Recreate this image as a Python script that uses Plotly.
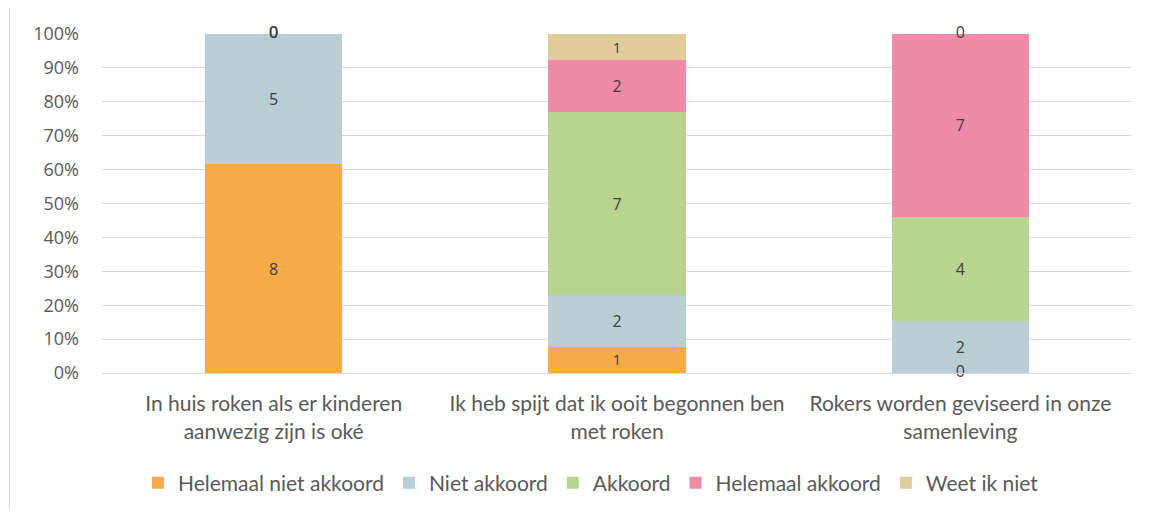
import plotly.graph_objects as go

categories = [
    "In huis roken als er kinderen<br>aanwezig zijn is oké",
    "Ik heb spijt dat ik ooit begonnen ben<br>met roken",
    "Rokers worden geviseerd in onze<br>samenleving",
]
series_names = ["Helemaal niet akkoord", "Niet akkoord", "Akkoord", "Helemaal akkoord", "Weet ik niet"]
helemaal_niet_akkoord = [8, 1, 0]
niet_akkoord = [5, 2, 2]
akkoord = [0, 7, 4]
helemaal_akkoord = [0, 2, 7]
weet_ik_niet = [0, 1, 0]
colors = ["#F6AB4B", "#B8CDD4", "#B9D491", "#EF8BA7", "#E2CB9A"]
y_ticks = [i / 10 for i in range(11)]

series = [helemaal_niet_akkoord, niet_akkoord, akkoord, helemaal_akkoord, weet_ik_niet]
totals = [sum(s[i] for s in series) for i in range(len(categories))]

# page body has an 8px margin; figure coords = screen coords - 8
OFF = 8
W, H = 1155 - 2 * OFF, 517 - 2 * OFF
L = 102 - OFF
T = 34 - OFF
R = W - (1132 - OFF)
B = H - (373 - OFF)
pw, ph = W - L - R, H - T - B

label_font = dict(family="Open Sans", size=16, color="#404040")

fig = go.Figure()
cum = [0.0] * len(categories)
zx, zy = [], []
for name, vals, col in zip(series_names, series, colors):
    frac = [v / t for v, t in zip(vals, totals)]
    fig.add_trace(go.Bar(
        name=name, x=categories, y=frac, marker_color=col, marker_line_width=0,
        text=[str(v) if v else "" for v in vals], textposition="inside",
        insidetextanchor="middle", textangle=0, textfont=label_font,
        hoverinfo="skip",
    ))
    for i, v in enumerate(vals):
        if v == 0:
            zx.append(categories[i])
            zy.append(cum[i])
    cum = [c + f for c, f in zip(cum, frac)]

fig.add_trace(go.Scatter(
    x=zx, y=zy, mode="text", text=["0"] * len(zx), textposition="middle center",
    textfont=label_font, showlegend=False, hoverinfo="skip", cliponaxis=False,
))

fig.update_layout(
    width=W, height=H, barmode="stack", bargap=0.6,
    margin=dict(l=L, r=R, t=T, b=B, autoexpand=False),
    paper_bgcolor="white", plot_bgcolor="white",
    font=dict(family="Lato", color="#595959"),
    xaxis=dict(showgrid=False, showline=True, linecolor="#D9D9D9", linewidth=1,
               tickfont=dict(family="Lato", size=21, color="#595959"),
               ticks="", ticklabelstandoff=12, automargin=False),
    yaxis=dict(range=[0, 1], tickvals=y_ticks, tickformat=".0%",
               showgrid=True, gridcolor="#D9D9D9", gridwidth=1, zeroline=False,
               tickfont=dict(family="Open Sans", size=18, color="#595959"),
               ticks="", ticklabelstandoff=22, automargin=False),
    legend=dict(orientation="h", x=(591 - 102) / pw, xanchor="center", y=(373 - 483) / ph,
                yanchor="middle", font=dict(family="Lato", size=21, color="#595959"),
                traceorder="normal"),
    shapes=[dict(type="rect", xref="paper", yref="paper",
                 x0=(9.5 - 102) / pw, x1=(1160 - 102) / pw,
                 y0=(373 - 530) / ph, y1=(373 - 4.5) / ph,
                 line=dict(color="#D9D9D9", width=1), fillcolor="rgba(0,0,0,0)", layer="below")],
)

fig.write_html("out.html")
